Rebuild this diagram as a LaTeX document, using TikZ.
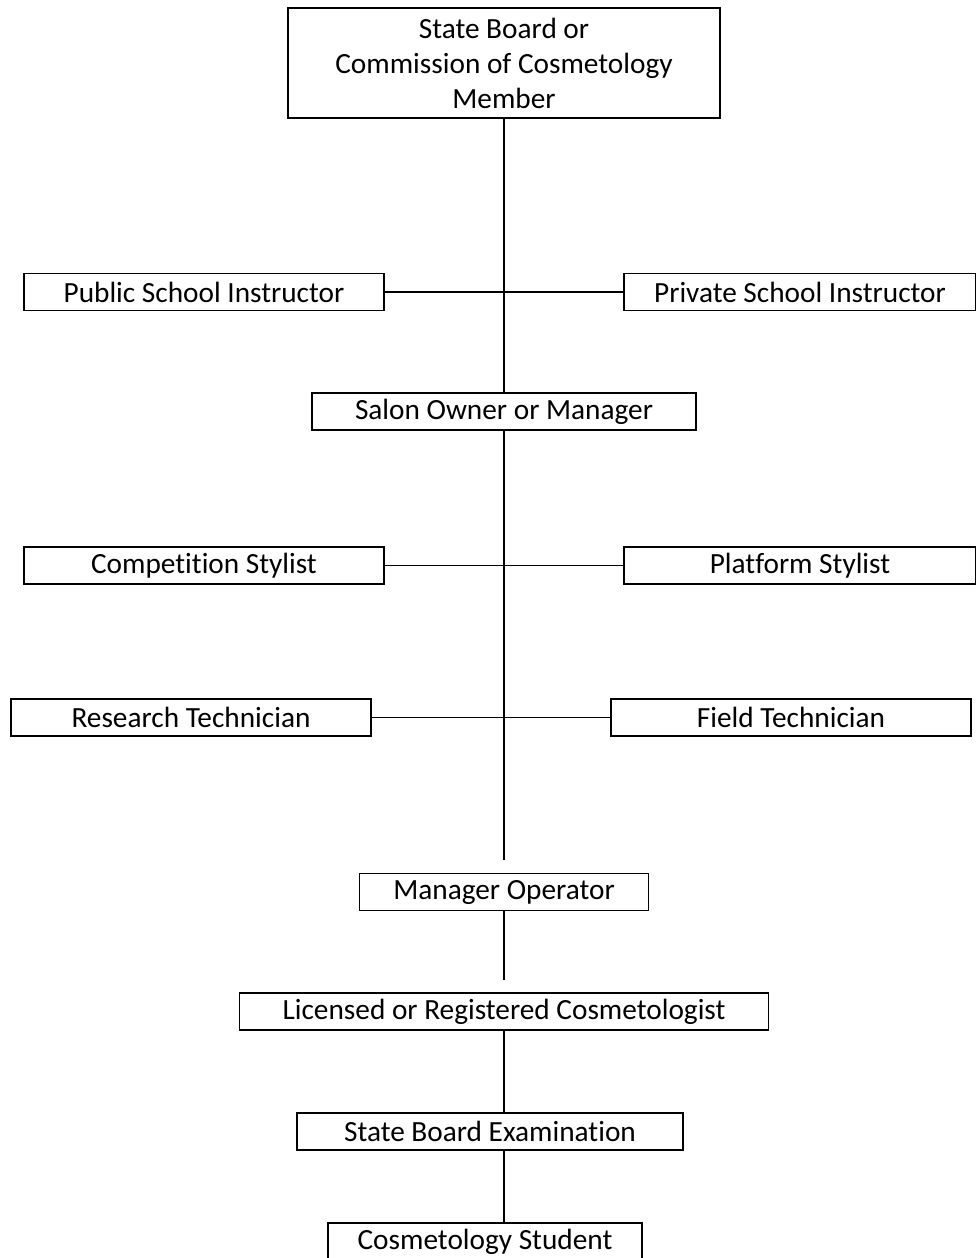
\documentclass[tikz,border=0pt]{standalone}
\usepackage{fontspec}
\setmainfont{Carlito}[Ligatures=NoCommon]
\usetikzlibrary{calc}

\tikzset{
  rank/.style={draw, line width=1.6pt, inner sep=0pt, align=center,
    font=\fontsize{29.3}{35}\selectfont, minimum height=37pt},
}

\begin{document}
\begin{tikzpicture}[x=1pt, y=-1pt, line width=1.6pt]
\useasboundingbox (0,0) rectangle (976,1258);

%Top of the ladder
\node[rank, minimum width=432pt, minimum height=110pt] (board) at (504,63)
  {\raisebox{-1.5pt}{\parbox{430pt}{\centering State Board or\\Commission of Cosmetology\\Member}}};

%Instructors
\node[rank, minimum width=360pt] (pubinst) at (204,292) {Public School Instructor};
\node[rank, minimum width=352pt] (privinst) at (800,292) {Private School Instructor};

\node[rank, minimum width=384pt] (salon) at (504,411.5) {Salon Owner or Manager};

%Stylists and technicians
\node[rank, minimum width=360pt] (compsty) at (204,565.5) {Competition Stylist};
\node[rank, minimum width=352pt] (platsty) at (800,565.5) {Platform Stylist};
\node[rank, minimum width=360pt] (restech) at (191,717.5) {Research Technician};
\node[rank, minimum width=360pt] (fieldtech) at (791,717.5) {Field Technician};

%Bottom of the ladder
\node[rank, minimum width=289pt] (mgrop) at (504,892) {Manager Operator};
\node[rank, minimum width=529pt] (licensed) at (504,1011.5) {Licensed or Registered Cosmetologist};
\node[rank, minimum width=386pt] (exam) at (490,1131.5) {State Board Examination};
\node[rank, minimum width=314pt] (student) at (485,1241.5) {Cosmetology Student};

\path (504,860) coordinate (G1);
\path (504,980) coordinate (G2);

%Connectors
\draw (board.south) -- (salon.north);
\draw (pubinst) -- (privinst);
\draw (salon.south) -- (G1);
\draw (compsty) -- (platsty);
\draw (restech) -- (fieldtech);
\draw (mgrop.south) -- (G2);
\draw (licensed.south) -- (licensed.south |- exam.north);
\draw (licensed.south |- exam.south) -- (licensed.south |- student.north);

\end{tikzpicture}
\end{document}
